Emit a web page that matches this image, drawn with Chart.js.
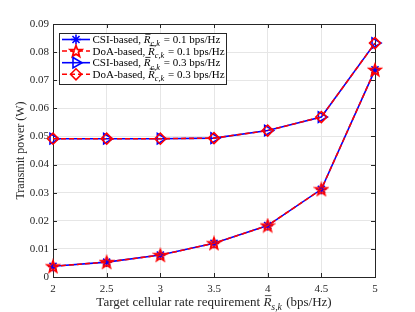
<!DOCTYPE html>
<html><head>
<script src="https://cdn.jsdelivr.net/npm/chart.js@4"></script>
<style>html,body{margin:0;padding:0;background:#fff}#w{width:415px;height:312px;position:relative}</style>
</head><body><div id="w"><canvas id="c"></canvas></div>
<script>
const rates=[2,2.5,3,3.5,4,4.5,5];
const csi01=[0.0038,0.0053,0.0078,0.0120,0.0183,0.0312,0.0737];
const doa01=[0.0038,0.0053,0.0078,0.0120,0.0183,0.0312,0.0737];
const csi03=[0.0492,0.0492,0.0492,0.0494,0.0521,0.0569,0.0832];
const doa03=[0.0492,0.0492,0.0492,0.0494,0.0521,0.0569,0.0832];
const xTicks=[2,2.5,3,3.5,4,4.5,5];
const yTicks=[0,0.01,0.02,0.03,0.04,0.05,0.06,0.07,0.08,0.09];
const seriesNames=['CSI-based','DoA-based','CSI-based','DoA-based'];
const seriesRates=['0.1','0.1','0.3','0.3'];

const SERIF='"Liberation Serif","DejaVu Serif",serif';
function pentagram(r,color){const s=Math.ceil(r*2+4);const c=document.createElement('canvas');c.width=c.height=s;const g=c.getContext('2d');g.translate(s/2,s/2+0.5);g.beginPath();for(let i=0;i<10;i++){const a=-Math.PI/2+i*Math.PI/5;const rr=i%2?r*0.42:r;g.lineTo(rr*Math.cos(a),rr*Math.sin(a));}g.closePath();g.strokeStyle=color;g.lineWidth=1.8;g.stroke();return c;}
const starImg=pentagram(6,'#ff0000');
const pts=a=>rates.map((x,i)=>({x:x,y:a[i]}));

const styles=[
 {color:'#0000ff',dash:[],pointStyle:'star',radius:5,rotation:0},
 {color:'#ff0000',dash:[5,3],pointStyle:starImg,radius:6,rotation:0},
 {color:'#0000ff',dash:[],pointStyle:'triangle',radius:6,rotation:90},
 {color:'#ff0000',dash:[5,3],pointStyle:'rectRot',radius:5.5,rotation:0}
];
const dataArr=[csi01,doa01,csi03,doa03];
const datasets=dataArr.map((d,i)=>({
 label:seriesNames[i],data:pts(d),borderColor:styles[i].color,backgroundColor:'rgba(0,0,0,0)',
 borderWidth:1.6,borderDash:styles[i].dash,pointStyle:styles[i].pointStyle,pointRadius:styles[i].radius,
 pointRotation:styles[i].rotation,pointBorderColor:styles[i].color,pointBackgroundColor:'rgba(0,0,0,0)',
 pointBorderWidth:1.6,tension:0,clip:false,order:(i%2===0)?1:0
}));

function drawRich(ctx,parts,x,y,size){
 let cx=x;
 for(const p of parts){
  const fs=p.sub?size*0.75:size;
  ctx.font=(p.italic?'italic ':'')+fs+'px '+SERIF;
  const yy=p.sub?y+size*0.3:y;
  ctx.fillText(p.t,cx,yy);
  const w=ctx.measureText(p.t).width;
  if(p.bar){ctx.save();ctx.lineWidth=0.8;ctx.strokeStyle=ctx.fillStyle;ctx.beginPath();ctx.moveTo(cx+1.5,y-size*0.8);ctx.lineTo(cx+w,y-size*0.8);ctx.stroke();ctx.restore();}
  cx+=w+(p.pad||0);
 }
 return cx-x;
}
function richWidth(ctx,parts,size){let w=0;for(const p of parts){const fs=p.sub?size*0.75:size;ctx.font=(p.italic?'italic ':'')+fs+'px '+SERIF;w+=ctx.measureText(p.t).width+(p.pad||0);}return w;}

const deco={
 id:'deco',
 beforeDatasetsDraw(chart){
  const {ctx,chartArea:a,scales}=chart;
  ctx.save();
  ctx.strokeStyle='#262626';ctx.lineWidth=1;
  ctx.strokeRect(Math.round(a.left)+0.5,Math.round(a.top)+0.5,Math.round(a.right-a.left),Math.round(a.bottom-a.top));
  ctx.beginPath();
  for(const v of xTicks){const px=Math.round(scales.x.getPixelForValue(v))+0.5;ctx.moveTo(px,a.bottom);ctx.lineTo(px,a.bottom-4);ctx.moveTo(px,a.top);ctx.lineTo(px,a.top+4);}
  for(const v of yTicks){const py=Math.round(scales.y.getPixelForValue(v))+0.5;ctx.moveTo(a.left,py);ctx.lineTo(a.left+4,py);ctx.moveTo(a.right,py);ctx.lineTo(a.right-4,py);}
  ctx.stroke();
  ctx.restore();
 },
 afterDraw(chart){
  const {ctx,chartArea:a}=chart;
  ctx.save();
  // legend
  const lx=59,ly=33,lw=167,lh=51;
  ctx.fillStyle='#fff';ctx.fillRect(lx,ly,lw,lh);
  ctx.strokeStyle='#262626';ctx.lineWidth=1;ctx.strokeRect(lx+0.5,ly+0.5,lw,lh);
  const rows=[39.5,51,62.7,74.3];
  for(let i=0;i<4;i++){
   const st=styles[i];const y=rows[i];
   ctx.save();ctx.strokeStyle=st.color;ctx.lineWidth=1.6;ctx.setLineDash(st.dash);
   ctx.beginPath();ctx.moveTo(62,y);ctx.lineTo(90,y);ctx.stroke();ctx.setLineDash([]);
   ctx.fillStyle='rgba(0,0,0,0)';
   Chart.helpers.drawPoint(ctx,{pointStyle:st.pointStyle,radius:st.radius,rotation:st.rotation,borderWidth:1.6},76,y);
   ctx.restore();
   ctx.fillStyle='#000';ctx.textBaseline='alphabetic';ctx.textAlign='left';
   drawRich(ctx,[{t:seriesNames[i]+', '},{t:'R',italic:true,bar:true},{t:'c,k',italic:true,sub:true,pad:1},{t:' = '+seriesRates[i]+' bps/Hz'}],92.5,y+3.5,11);
  }
  // x title
  ctx.fillStyle='#262626';
  const xparts=[{t:'Target cellular rate requirement '},{t:'R',italic:true,bar:true},{t:'s,k',italic:true,sub:true,pad:1},{t:' (bps/Hz)'}];
  const tw=richWidth(ctx,xparts,13);
  drawRich(ctx,xparts,(a.left+a.right)/2-tw/2,306,13);
  // y title
  ctx.translate(21,(a.top+a.bottom)/2);ctx.rotate(-Math.PI/2);
  ctx.font='12px '+SERIF;ctx.textAlign='center';ctx.textBaseline='middle';
  ctx.fillText('Transmit power (W)',0,0);
  ctx.restore();
 }
};

new Chart(document.getElementById('c'),{
 type:'line',
 data:{datasets},
 plugins:[deco],
 options:{
  responsive:true,maintainAspectRatio:false,animation:false,
  layout:{padding:{top:24,right:40,left:0,bottom:0}},
  plugins:{legend:{display:false},tooltip:{enabled:false}},
  scales:{
   x:{type:'linear',min:2,max:5,
    afterBuildTicks(s){s.ticks=xTicks.map(v=>({value:v}));},
    afterFit(s){s.height=35;},
    grid:{color:'#e6e6e6',drawTicks:false},border:{display:false},
    ticks:{padding:6,color:'#262626',font:{family:SERIF,size:11},callback:v=>String(v),maxRotation:0}},
   y:{min:0,max:0.09,
    afterBuildTicks(s){s.ticks=yTicks.map(v=>({value:v}));},
    afterFit(s){s.width=53;},
    grid:{color:'#e6e6e6',drawTicks:false},border:{display:false},
    ticks:{padding:4,color:'#262626',font:{family:SERIF,size:11},callback:v=>v===0?'0':String(v)}}
  }
 }
});
</script></body></html>
